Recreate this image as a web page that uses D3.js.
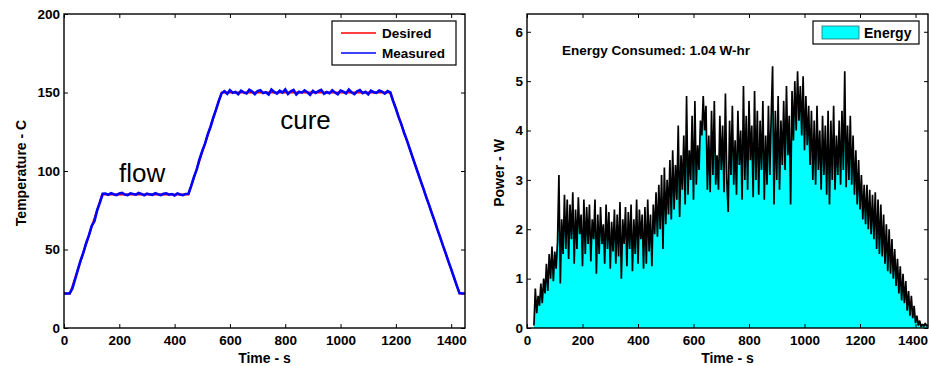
<!DOCTYPE html>
<html>
<head>
<meta charset="utf-8">
<script src="https://cdn.jsdelivr.net/npm/d3@7"></script>
<style>
  body { margin: 0; background: #fff; }
  svg text { font-family: "Liberation Sans", Arial, sans-serif; }
</style>
</head>
<body>
<svg id="chart" width="929" height="366"></svg>
<script>
// ---- data ----
// desired cure profile (breakpoints, s / C)
const desiredTime = [0, 22, 138, 450, 570, 1180, 1430, 1450];
const desiredTemp = [22, 22, 85, 85, 150, 150, 22, 22];

// measured temperature, one sample every 10 s from t = 0
const measuredStep = 10;
const measuredTemp = [
  22, 22, 22, 25, 31, 37, 43, 48, 54, 59,
  65, 68, 75, 80, 85.5, 85.6, 84.8, 85.9, 85.2, 84.6,
  85.7, 86.1, 85.0, 84.7, 85.8, 85.3, 84.9, 86.0, 85.4, 84.5,
  85.6, 85.1, 84.8, 85.9, 85.2, 84.6, 85.5, 85.8, 84.9, 85.3,
  84.4, 85.7, 85.0, 84.6, 85.4, 85.5, 90.5, 96.3, 101, 107.5,
  112.8, 117.4, 123.5, 128.2, 134.1, 139.3, 144.8, 149.5, 150.8, 149.2,
  151.5, 149.8, 150.3, 148.9, 151.2, 150.1, 149.4, 151.8, 150.6, 149.0,
  150.9, 151.4, 149.6, 150.2, 148.7, 151.9, 150.4, 149.3, 151.1, 150.0,
  152.0, 149.1, 150.7, 151.6, 148.8, 150.5, 149.9, 151.3, 150.2, 148.6,
  151.0, 149.7, 150.8, 151.7, 149.2, 150.3, 149.5, 151.4, 150.0, 148.9,
  151.2, 150.6, 149.4, 151.9, 150.1, 149.0, 150.7, 151.5, 149.6, 150.4,
  148.8, 151.1, 150.2, 149.8, 151.3, 150.5, 149.3, 150.9, 150.0, 144.6,
  139.8, 134.3, 129.7, 124.2, 119.5, 114.3, 109.0, 103.8, 98.7, 93.5,
  88.6, 83.2, 78.4, 73.1, 68.2, 62.8, 57.9, 52.6, 47.7, 42.4,
  37.5, 32.3, 27.1, 22.2, 22, 22
];

// heater power, one sample every 5 s from t = 25
const powerStart = 25;
const powerStep = 5;
const powerW = [
  0.05, 0.8, 0.3, 0.65, 0.45, 0.9, 0.5, 1.0, 0.7, 1.3, 0.75, 1.5, 1.0, 1.65, 0.95, 1.55, 1.2, 1.75, 3.1, 0.9,
  2.2, 1.5, 2.7, 1.6, 2.6, 1.4, 2.5, 1.8, 2.75, 1.3, 2.4, 1.6, 2.65, 1.9, 2.3, 1.25, 2.6, 1.5, 2.45, 1.7,
  2.5, 1.35, 2.2, 1.8, 2.6, 1.1, 2.3, 1.5, 2.45, 1.7, 2.1, 1.3, 2.5, 1.6, 2.35, 1.2, 2.15, 1.55, 2.4, 1.3,
  2.3, 1.45, 2.55, 1.0, 2.2, 1.7, 2.45, 1.25, 2.35, 1.6, 2.5, 1.15, 2.2, 1.5, 2.6, 1.3, 2.4, 1.8, 2.3, 1.2,
  2.45, 1.3, 2.6, 1.55, 2.3, 1.25, 2.5, 1.9, 2.75, 1.85, 2.9, 2.0, 3.1, 1.6, 3.25, 2.1, 3.0, 2.3, 3.4, 2.2,
  3.6, 2.4, 3.3, 2.6, 4.1, 2.25, 3.5, 2.8, 3.9, 2.5, 4.7, 2.7, 3.6, 3.0, 4.3, 2.6, 4.6, 2.9, 3.7, 3.2,
  4.2, 3.9, 4.7, 4.0, 4.5, 2.8, 3.9, 2.75, 4.4, 3.1, 4.6, 2.9, 3.5, 2.8, 4.3, 3.2, 4.1, 2.75, 4.75, 3.0,
  2.35, 4.2, 3.1, 4.5, 2.9, 3.8, 2.7, 4.4, 3.3, 4.0, 2.6, 4.9, 3.0, 4.3, 2.8, 4.6, 3.4, 4.1, 2.65, 4.8,
  3.0, 4.4, 2.7, 4.2, 3.2, 4.6, 2.6, 3.9, 2.9, 4.5, 3.1, 4.3, 5.3, 2.5, 4.4, 3.0, 4.7, 2.8, 4.2, 3.3,
  4.6, 3.2, 4.9, 3.5, 4.3, 2.5, 4.8, 3.8, 5.0, 4.0, 5.2, 4.2, 4.9, 3.9, 5.1, 3.6, 4.7, 3.7, 4.5, 3.3,
  4.4, 3.0, 4.2, 2.9, 4.5, 3.2, 4.0, 2.8, 4.3, 3.1, 4.1, 2.7, 4.4, 2.5, 4.2, 3.0, 4.5, 2.8, 3.9, 3.1,
  4.2, 2.9, 4.4, 3.2, 5.2, 2.85, 4.1, 3.0, 4.3, 2.9, 3.9, 2.7, 3.6, 2.5, 3.4, 2.4, 3.1, 2.2, 2.9, 2.1,
  2.9, 2.0, 2.8, 1.9, 2.7, 1.8, 2.75, 1.6, 2.6, 1.5, 2.5, 1.45, 2.3, 1.3, 2.1, 1.15, 2.0, 1.1, 1.8, 1.0,
  1.6, 0.85, 1.4, 0.7, 1.25, 0.56, 1.1, 0.5, 0.95, 0.35, 0.75, 0.25, 0.65, 0.2, 0.45, 0.1, 0.25, 0.05, 0.15, 0.02,
  0.08, 0.03, 0.1, 0.04, 0.06
];

const xTicks = [0, 200, 400, 600, 800, 1000, 1200, 1400];
const tempTicks = [0, 50, 100, 150, 200];
const powerTicks = [0, 1, 2, 3, 4, 5, 6];
const energyNote = "Energy Consumed: 1.04 W-hr";

// ---- drawing ----
const svg = d3.select("#chart");
const tickFont = "13.5px";
const fmt = d3.format("d");

function frame(g, x, y, xt, yt, xLabel, yLabel, yLabelX) {
  const [x0, x1] = x.range();
  const [y0, y1] = y.range();

  const bottom = g.append("g").attr("transform", `translate(0,${y0})`)
    .call(d3.axisBottom(x).tickValues(xt).tickFormat(fmt).tickSizeInner(-4).tickSizeOuter(0).tickPadding(7));
  g.append("g").attr("transform", `translate(0,${y1})`)
    .call(d3.axisTop(x).tickValues(xt).tickSizeInner(-4).tickSizeOuter(0).tickFormat(""));
  g.append("g").attr("transform", `translate(${x0},0)`)
    .call(d3.axisLeft(y).tickValues(yt).tickFormat(fmt).tickSizeInner(-4).tickSizeOuter(0).tickPadding(4));
  g.append("g").attr("transform", `translate(${x1},0)`)
    .call(d3.axisRight(y).tickValues(yt).tickSizeInner(-4).tickSizeOuter(0).tickFormat(""));

  g.selectAll(".domain").remove();
  g.selectAll(".tick line").attr("stroke", "#000").attr("stroke-width", 1);
  g.selectAll(".tick text")
    .attr("fill", "#000")
    .style("font-family", "'Liberation Sans', Arial, sans-serif")
    .style("font-size", tickFont)
    .style("font-weight", "bold");

  g.append("rect")
    .attr("x", x0).attr("y", y1)
    .attr("width", x1 - x0).attr("height", y0 - y1)
    .attr("fill", "none").attr("stroke", "#000").attr("stroke-width", 1.4);

  g.append("text")
    .attr("x", (x0 + x1) / 2).attr("y", 363)
    .attr("text-anchor", "middle")
    .attr("font-size", "14px").attr("font-weight", "bold")
    .text(xLabel);

  g.append("text")
    .attr("transform", `translate(${yLabelX},${(y0 + y1) / 2 + 2}) rotate(-90)`)
    .attr("text-anchor", "middle")
    .attr("font-size", "14px").attr("font-weight", "bold")
    .text(yLabel);

  return bottom;
}

// left panel: temperature
{
  const x = d3.scaleLinear().domain([0, 1450]).range([64, 465]);
  const y = d3.scaleLinear().domain([0, 200]).range([328, 14]);
  const g = svg.append("g");

  g.append("clipPath").attr("id", "clipL")
    .append("rect").attr("x", 64).attr("y", 14).attr("width", 401).attr("height", 314);

  const line = d3.line().x(d => x(d[0])).y(d => y(d[1]));
  const desired = desiredTime.map((t, i) => [t, desiredTemp[i]]);
  const measured = measuredTemp.map((v, i) => [i * measuredStep, v]);

  g.append("path").datum(desired)
    .attr("clip-path", "url(#clipL)")
    .attr("d", line).attr("fill", "none")
    .attr("stroke", "#ff0000").attr("stroke-width", 2);
  g.append("path").datum(measured)
    .attr("clip-path", "url(#clipL)")
    .attr("d", line).attr("fill", "none")
    .attr("stroke", "#0000ff").attr("stroke-width", 2.6)
    .attr("stroke-linejoin", "miter");

  g.append("text").attr("x", x(199)).attr("y", y(93))
    .attr("font-size", "26px").text("flow");
  g.append("text").attr("x", x(782)).attr("y", y(127))
    .attr("font-size", "26px").text("cure");

  frame(g, x, y, xTicks, tempTicks, "Time - s", "Temperature - C", 26);

  // legend
  const lg = g.append("g");
  lg.append("rect").attr("x", 332).attr("y", 21).attr("width", 124).attr("height", 44)
    .attr("fill", "#fff").attr("stroke", "#000").attr("stroke-width", 1.2);
  [["Desired", "#ff0000"], ["Measured", "#0000ff"]].forEach((d, i) => {
    const yy = 33 + i * 20;
    lg.append("line").attr("x1", 341).attr("x2", 376).attr("y1", yy).attr("y2", yy)
      .attr("stroke", d[1]).attr("stroke-width", 1.5);
    lg.append("text").attr("x", 382).attr("y", yy + 5)
      .attr("font-size", tickFont).attr("font-weight", "bold").text(d[0]);
  });
}

// right panel: power
{
  const x = d3.scaleLinear().domain([0, 1445]).range([527, 928]);
  const y = d3.scaleLinear().domain([0, 6.36]).range([328, 14]);
  const g = svg.append("g");

  const pts = powerW.map((v, i) => [powerStart + i * powerStep, v]);

  g.append("path").datum(pts)
    .attr("d", d3.area().x(d => x(d[0])).y0(y(0)).y1(d => y(d[1])))
    .attr("fill", "#00ffff");
  g.append("path").datum(pts)
    .attr("d", d3.line().x(d => x(d[0])).y(d => y(d[1])))
    .attr("fill", "none").attr("stroke", "#000").attr("stroke-width", 1.7)
    .attr("stroke-linejoin", "bevel");

  g.append("text").attr("x", 562).attr("y", 55)
    .attr("font-size", tickFont).attr("font-weight", "bold").text(energyNote);

  const bottom = frame(g, x, y, xTicks, powerTicks, "Time - s", "Power - W", 504);
  // last label sits against the window edge
  bottom.selectAll(".tick text").filter(d => d === 1400).attr("dx", -3);

  const lg = g.append("g");
  lg.append("rect").attr("x", 813).attr("y", 21).attr("width", 106).attr("height", 23)
    .attr("fill", "#fff").attr("stroke", "#000").attr("stroke-width", 1.2);
  lg.append("rect").attr("x", 822).attr("y", 26).attr("width", 37).attr("height", 13)
    .attr("fill", "#00ffff").attr("stroke", "#2a6e6e").attr("stroke-width", 0.8);
  lg.append("text").attr("x", 864).attr("y", 38)
    .attr("font-size", "14px").attr("font-weight", "bold").text("Energy");
}
</script>
</body>
</html>
